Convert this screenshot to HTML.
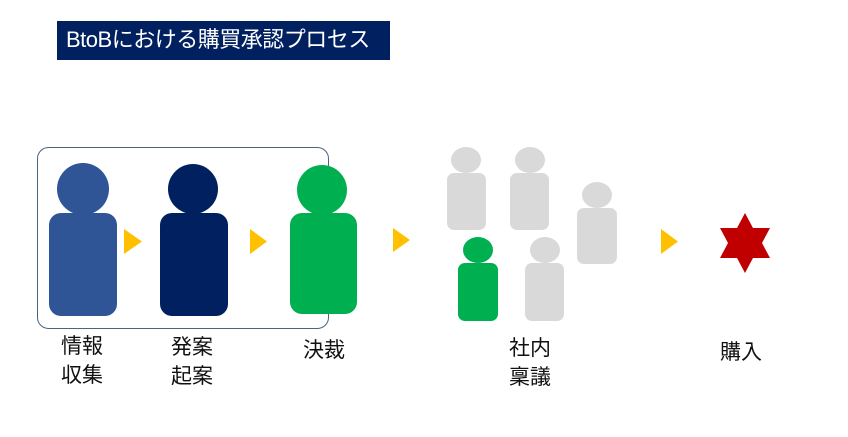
<!DOCTYPE html>
<html><head><meta charset="utf-8"><style>
body{margin:0;width:848px;height:437px;background:#fff;position:relative;overflow:hidden;font-family:"Liberation Sans","Noto Sans CJK JP",sans-serif}
.a{position:absolute}
.t{font-size:21px;line-height:29px;color:#111}
</style></head><body>
<div class="a" style="left:57px;top:21px;width:333px;height:39px;background:#002060"></div>
<div class="a" style="left:66px;top:25px;color:#fff;font-size:22px;line-height:30px;letter-spacing:-0.5px">BtoBにおける購買承認プロセス</div>
<svg class="a" style="left:0;top:0" width="848" height="437">
<rect x="37.5" y="147.5" width="291" height="181" rx="11" fill="none" stroke="#4a6580" stroke-width="1"/>
<circle cx="83" cy="189" r="26" fill="#2f5597"/>
<rect x="49" y="213" width="68" height="103" rx="12" fill="#2f5597"/>
<circle cx="193" cy="189" r="25" fill="#002060"/>
<rect x="160" y="213" width="68" height="103" rx="12" fill="#002060"/>
<circle cx="322" cy="190" r="25" fill="#00b050"/>
<rect x="290" y="213" width="67" height="101" rx="12" fill="#00b050"/>
<g fill="#ffc000">
<polygon points="124,229 142,241.5 124,254"/>
<polygon points="250,229 267,241.5 250,254"/>
<polygon points="393,228 410,240 393,252"/>
<polygon points="661,229 678,241.5 661,254"/>
</g>
<g fill="#d9d9d9">
<ellipse cx="466" cy="160" rx="15" ry="13"/><rect x="447" y="173" width="39" height="57" rx="7"/>
<ellipse cx="530" cy="160" rx="15" ry="13"/><rect x="510" y="173" width="39" height="57" rx="7"/>
<ellipse cx="597" cy="195" rx="15" ry="13"/><rect x="577" y="208" width="40" height="56" rx="7"/>
<ellipse cx="545" cy="250" rx="15" ry="13"/><rect x="525" y="263" width="39" height="58" rx="7"/>
</g>
<ellipse cx="478" cy="250" rx="15" ry="13" fill="#00b050"/><rect x="458" y="263" width="40" height="58" rx="7" fill="#00b050"/>
<polygon fill="#c00000" points="745,213 753,228 770,228 762,243 770,258 753,258 745,273 737,258 720,258 728,243 720,228 737,228"/>
</svg>
<div class="a t" style="left:61px;top:332px">情報<br>収集</div>
<div class="a t" style="left:171px;top:333px">発案<br>起案</div>
<div class="a t" style="left:303px;top:336px">決裁</div>
<div class="a t" style="left:509px;top:334px">社内<br>稟議</div>
<div class="a t" style="left:720px;top:338px">購入</div>
</body></html>
